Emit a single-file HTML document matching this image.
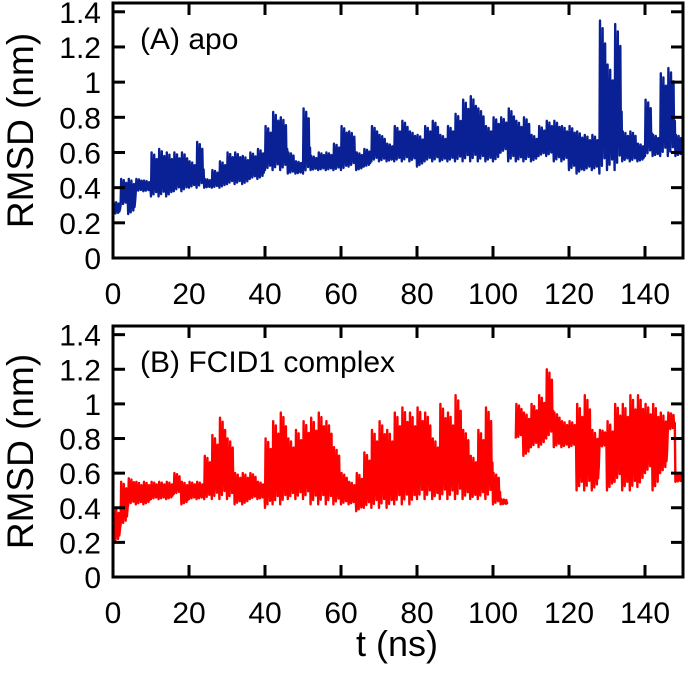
<!DOCTYPE html>
<html><head><meta charset="utf-8"><style>
body{margin:0;background:#fff;}
svg text{font-family:"Liberation Sans",sans-serif;fill:#000;}
</style></head><body>
<svg id="c" width="688" height="672" xmlns="http://www.w3.org/2000/svg"></svg>
<script>
const tickX=[0,20,40,60,80,100,120,140];
const tickY=[0,0.2,0.4,0.6,0.8,1,1.2,1.4];
const tickYLabels=["0","0.2","0.4","0.6","0.8","1","1.2","1.4"];
const apoLo=[0.25,0.3,0.25,0.38,0.38,0.35,0.35,0.35,0.38,0.38,0.4,0.4,0.4,0.4,0.4,0.42,0.42,0.42,0.45,0.45,0.5,0.5,0.5,0.48,0.48,0.48,0.5,0.5,0.5,0.5,0.5,0.52,0.5,0.52,0.55,0.55,0.55,0.55,0.55,0.55,0.52,0.55,0.55,0.55,0.55,0.55,0.55,0.55,0.55,0.55,0.55,0.6,0.55,0.55,0.55,0.55,0.58,0.58,0.55,0.55,0.5,0.48,0.5,0.5,0.48,0.5,0.5,0.55,0.55,0.55,0.58,0.58,0.58,0.58,0.58,0.55];
const apoHi=[0.32,0.45,0.45,0.45,0.44,0.6,0.62,0.6,0.6,0.6,0.55,0.66,0.45,0.5,0.55,0.6,0.6,0.58,0.6,0.62,0.75,0.83,0.8,0.6,0.55,0.85,0.58,0.6,0.6,0.65,0.75,0.72,0.6,0.62,0.75,0.7,0.65,0.75,0.78,0.72,0.7,0.75,0.78,0.7,0.75,0.82,0.9,0.92,0.85,0.75,0.8,0.8,0.85,0.78,0.8,0.7,0.75,0.78,0.78,0.75,0.75,0.72,0.7,0.7,1.35,1.1,1.33,0.72,0.72,0.65,0.9,0.7,1.05,1.08,0.7,0.65];
const cpxLo=[0.2,0.3,0.42,0.42,0.42,0.45,0.45,0.45,0.48,0.42,0.45,0.45,0.45,0.45,0.45,0.45,0.42,0.42,0.45,0.45,0.4,0.42,0.42,0.45,0.45,0.45,0.42,0.42,0.42,0.42,0.42,0.42,0.38,0.4,0.4,0.4,0.4,0.42,0.42,0.42,0.45,0.45,0.45,0.45,0.45,0.45,0.45,0.45,0.45,0.45,0.42,0.42,null,0.8,0.7,0.75,0.75,0.8,0.75,0.75,0.75,0.5,0.5,0.5,0.75,0.5,0.55,0.5,0.5,0.52,0.6,0.5,0.6,0.85,0.55,0.55];
const cpxHi=[0.4,0.55,0.57,0.55,0.55,0.55,0.55,0.55,0.6,0.55,0.55,0.55,0.7,0.82,0.92,0.8,0.6,0.6,0.6,0.55,0.8,0.9,0.95,0.8,0.85,0.9,0.92,0.95,0.9,0.75,0.6,0.55,0.6,0.72,0.85,0.9,0.85,0.95,0.98,0.95,0.98,0.95,0.8,1.0,0.95,1.05,0.85,0.7,0.85,0.98,0.6,0.45,null,1.0,0.95,1.0,1.05,1.2,0.95,0.9,0.9,1.0,1.05,0.85,0.85,0.9,1.0,1.0,1.05,1.05,1.0,1.0,0.95,0.95,0.6,0.58];
const NS="http://www.w3.org/2000/svg";
const svg=document.getElementById('c');
function mk(tag,attrs,parent){const e=document.createElementNS(NS,tag);for(const k in attrs)e.setAttribute(k,attrs[k]);(parent||svg).appendChild(e);return e;}
function panel(top,bottom,lo,hi,color,label,pname){
  const L=113,R=683,ymax=1.45;
  const sx=t=>L+(t/150)*(R-L);
  const sy=v=>bottom-(v/ymax)*(bottom-top);
  const g=mk('g',{});
  
  
  let d='',pen=false;
  const frac=[0,1,0.15,0.7,0.05,0.95,0.25,0.5,0.1,0.85,0.2,0.4];
  for(let i=0;i<lo.length;i++){
    if(lo[i]===null){pen=false;continue;}
    const t0=i*2;
    for(let k=0;k<12;k++){
      const t=Math.min(150,t0+k*2/12);
      const v=lo[i]+frac[k]*(hi[i]-lo[i]);
      d+=(pen?'L':'M')+sx(t).toFixed(1)+' '+sy(v).toFixed(1);
      pen=true;
    }
  }
  const p=mk('path',{d:d,fill:'none',stroke:color,'stroke-width':2.4,'stroke-linejoin':'round'},g);
  
  
  const f=mk('rect',{x:L,y:top,width:R-L,height:bottom-top,fill:'none',stroke:'#000','stroke-width':3},g);
  
  
  tickX.forEach(t=>{
    mk('line',{x1:sx(t),x2:sx(t),y1:bottom,y2:bottom-12,stroke:'#000','stroke-width':3},g);
    mk('line',{x1:sx(t),x2:sx(t),y1:top,y2:top+12,stroke:'#000','stroke-width':3},g);
    const tx=mk('text',{x:sx(t),y:bottom+46,'font-size':30,'text-anchor':'middle'},g);
    tx.textContent=t;
    
    
  });
  tickY.forEach((v,i)=>{
    mk('line',{x1:L,x2:L+12,y1:sy(v),y2:sy(v),stroke:'#000','stroke-width':3},g);
    mk('line',{x1:R,x2:R-12,y1:sy(v),y2:sy(v),stroke:'#000','stroke-width':3},g);
    const tx=mk('text',{x:L-12,y:sy(v)+11,'font-size':30,'text-anchor':'end'},g);
    tx.textContent=tickYLabels[i];
    
    
  });
  const yt=mk('text',{x:0,y:0,'font-size':37,'text-anchor':'middle',transform:`translate(33,${(top+bottom)/2}) rotate(-90)`},g);
  yt.textContent='RMSD (nm)';
  
  
  const lb=mk('text',{x:140,y:top+46,'font-size':30},g);
  lb.textContent=label;
  
  
}
panel(3,258,apoLo,apoHi,'#0a2196','(A) apo','panel-apo');
panel(326,577,cpxLo,cpxHi,'#ff0000','(B) FCID1 complex','panel-complex');
const xt=mk('text',{x:397,y:656,'font-size':36,'text-anchor':'middle'});
xt.textContent='t (ns)';


</script>
</body></html>
